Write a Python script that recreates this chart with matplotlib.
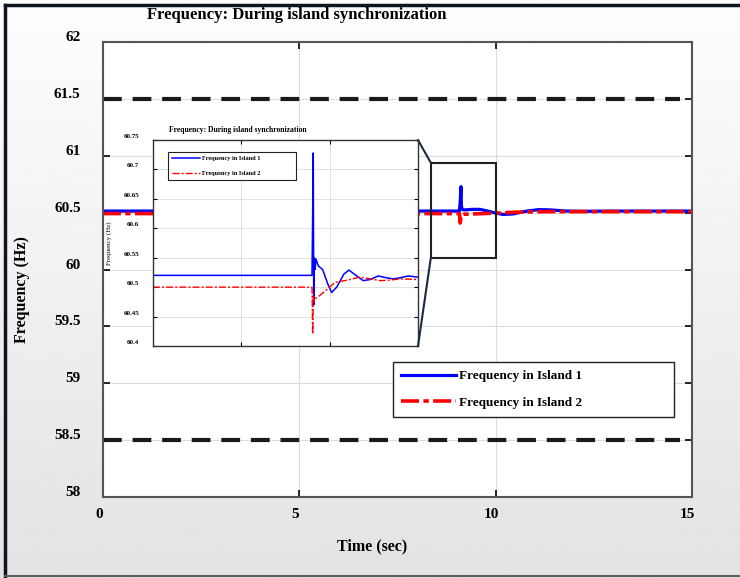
import numpy as np
import matplotlib
matplotlib.use("Agg")
import matplotlib.pyplot as plt
from matplotlib.patches import Rectangle, ConnectionPatch
from matplotlib.lines import Line2D
import matplotlib.transforms as mtransforms

plt.rcParams['font.family'] = ['Liberation Serif', 'DejaVu Serif']
plt.rcParams['font.weight'] = 'bold'

# main plot data
t_isl1 = [0, 9.08, 9.10, 9.12, 9.13, 9.15, 9.2, 9.4, 9.6, 9.8, 10.0, 10.2, 10.45, 10.8, 11.1, 11.4, 11.8, 12.3, 13, 15]
f_isl1 = [60.515, 60.515, 60.60, 60.73, 60.56, 60.53, 60.525, 60.53, 60.53, 60.515, 60.497, 60.485, 60.49, 60.515, 60.528, 60.525, 60.515, 60.513, 60.515, 60.515]
t_isl2 = [0, 9.08, 9.10, 9.12, 9.14, 9.2, 9.6, 10.0, 10.5, 11.2, 12, 15]
f_isl2 = [60.493, 60.493, 60.41, 60.47, 60.48, 60.487, 60.492, 60.497, 60.505, 60.51, 60.51, 60.51]

# zoomed inset data
t_zoom1 = [8.3, 9.200, 9.203, 9.207, 9.210, 9.213, 9.218, 9.222, 9.236, 9.26, 9.29, 9.311, 9.34, 9.38,
           9.409, 9.44, 9.49, 9.53, 9.575, 9.62, 9.66, 9.70, 9.745, 9.8]
f_zoom1 = [60.52, 60.52, 60.60, 60.728, 60.47, 60.55, 60.53, 60.548, 60.536, 60.53, 60.505, 60.491, 60.50, 60.522,
           60.529, 60.522, 60.511, 60.513, 60.519, 60.516, 60.514, 60.516, 60.519, 60.517]
t_zoom2 = [8.3, 9.200, 9.204, 9.208, 9.212, 9.216, 9.241, 9.28, 9.33, 9.40, 9.47, 9.53, 9.585, 9.64, 9.698, 9.8]
f_zoom2 = [60.50, 60.50, 60.42, 60.49, 60.475, 60.48, 60.485, 60.495, 60.508, 60.512, 60.517, 60.514, 60.511, 60.512, 60.514, 60.513]

limits = [61.5, 58.5]
labels = ['Frequency in Island 1', 'Frequency in Island 2']
title = 'Frequency: During island synchronization'

fig = plt.figure(figsize=(7.4, 5.78), dpi=100)

# gradient background
bg = fig.add_axes([0, 0, 1, 1], zorder=-10)
grad = np.linspace(0.995, 0.89, 256).reshape(-1, 1)
bg.imshow(grad, aspect='auto', cmap='gray', vmin=0, vmax=1, extent=[0, 1, 0, 1])
bg.set_axis_off()
# frame
fig.add_artist(Line2D([0.007, 0.007], [0.004, 0.992], color='#0d1520', lw=2.5))
fig.add_artist(Line2D([0.007, 1.0], [0.992, 0.992], color='#0d1520', lw=2.5))
fig.add_artist(Line2D([0.007, 1.0], [0.004, 0.004], color='#606060', lw=1.5))

ax = fig.add_axes([0.139, 0.140, 0.796, 0.787])
ax.set_facecolor('white')
ax.plot(t_isl1, f_isl1, color='#0000ff', lw=2.3, label=labels[0])
ax.plot(t_isl2, f_isl2, color='#ff0000', lw=2.6, ls=(0, (5, 1.2, 1.5, 1.2)), label=labels[1])
for v in limits:
    ax.axhline(v, color='#1a1a1a', lw=3, ls=(0, (4.5, 2.6)), xmin=0.0, xmax=0.98)
ax.set_xlim(0, 15)
ax.set_ylim(58, 62)
ax.set_xticks([0, 5, 10, 15])
ax.set_yticks(np.arange(58, 62.01, 0.5))
ax.set_yticklabels(['58', '58.5', '59', '59.5', '60', '60.5', '61', '61.5', '62'])
ax.grid(True, color='#dddddd', lw=0.8)
ax.tick_params(direction='in', length=5, width=1.2, top=True, right=True, labelsize=11)
ax.tick_params(axis='y', pad=16)
ax.tick_params(axis='x', pad=8)
for s in ax.spines.values():
    s.set_color('#555555')
    s.set_linewidth(1.5)
off = mtransforms.ScaledTranslation(0, 6 / 100, fig.dpi_scale_trans)
for lbl in ax.get_yticklabels():
    lbl.set_transform(lbl.get_transform() + off)
offx = mtransforms.ScaledTranslation(-4 / 100, 0, fig.dpi_scale_trans)
for lbl in ax.get_xticklabels():
    lbl.set_transform(lbl.get_transform() + offx)

leg = ax.legend(loc='upper left', bbox_to_anchor=(0.492, 0.163, 0.478, 0.134), mode='expand',
                fontsize=9.5, fancybox=False, edgecolor='#222222', framealpha=1, handlelength=4.2,
                handletextpad=0.2, labelspacing=1.1, borderpad=0.6, borderaxespad=0)
leg.get_frame().set_linewidth(1.0)

fig.text(297 / 740, 1 - 15 / 578, title, ha='center', va='center', fontsize=12, fontweight='bold')
fig.text(372 / 740, 1 - 546 / 578, 'Time (sec)', ha='center', va='center', fontsize=11.5, fontweight='bold')
fig.text(22 / 740, 1 - 290 / 578, 'Frequency (Hz)', ha='center', va='center', rotation=90,
         fontsize=11.5, fontweight='bold')

# zoom box
ax.add_patch(Rectangle((8.35, 60.10), 1.65, 0.84, fill=False, edgecolor='#222222', lw=1.5, zorder=5))

# inset
ins = fig.add_axes([153 / 740, 1 - 346 / 578, 265 / 740, 206 / 578])
ins.set_facecolor('white')
ins.plot(t_zoom1, f_zoom1, color='#0000ff', lw=1.1, label=labels[0])
ins.plot(t_zoom2, f_zoom2, color='#ff0000', lw=1.0, ls=(0, (5, 1.5, 1.5, 1.5)), label=labels[1])
ins.set_xlim(8.3, 9.8)
ins.set_ylim(60.4, 60.75)
ins.set_xticks([8.8, 9.3])
ins.set_xticklabels([])
ins.set_yticks([60.4, 60.45, 60.5, 60.55, 60.6, 60.65, 60.7, 60.75])
ins.set_yticklabels(['60.4', '60.45', '60.5', '60.55', '60.6', '60.65', '60.7', '60.75'])
ins.grid(True, color='#dddddd', lw=0.6)
ins.tick_params(direction='in', length=3, width=0.8, top=True, right=True, labelsize=5, pad=10)
for s in ins.spines.values():
    s.set_color('#333333')
    s.set_linewidth(1.0)
offi = mtransforms.ScaledTranslation(0, 4 / 100, fig.dpi_scale_trans)
for lbl in ins.get_yticklabels():
    lbl.set_transform(lbl.get_transform() + offi)
ins.set_ylabel('Frequency (Hz)', fontsize=5, labelpad=8)
ins.set_title(title, fontsize=5.5, fontweight='bold', pad=6, x=0.32)
ileg = ins.legend(loc='upper left', bbox_to_anchor=(0.057, 0.80, 0.483, 0.142), mode='expand',
                  fontsize=4.5, fancybox=False, edgecolor='#222222', framealpha=1, handlelength=4.5,
                  handletextpad=0.3, labelspacing=1.6, borderpad=0.6, borderaxespad=0)
ileg.get_frame().set_linewidth(0.8)

for ya, yb in [(1, 60.94), (0, 60.10)]:
    con = ConnectionPatch(xyA=(1, ya), coordsA=ins.transAxes, xyB=(8.35, yb), coordsB=ax.transData,
                          color='#1a2a40', lw=1.5)
    fig.add_artist(con)

fig.savefig('out.png', dpi=100)
